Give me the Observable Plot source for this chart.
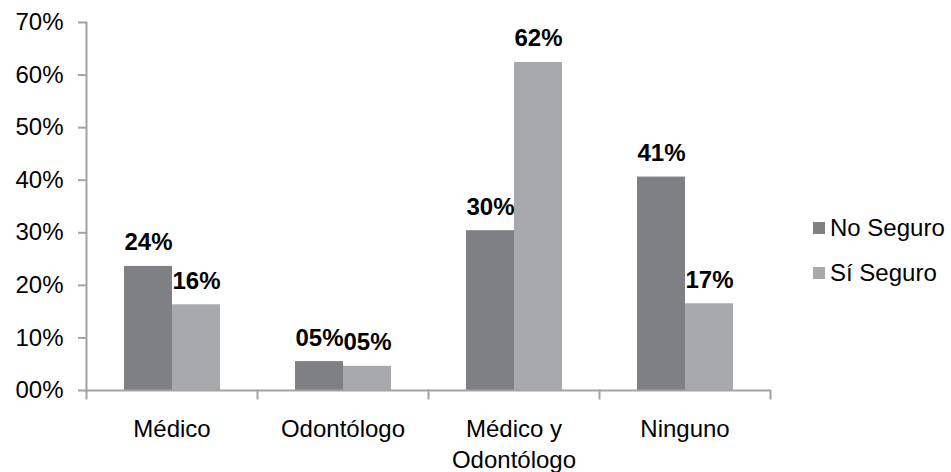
<!DOCTYPE html>
<html>
<head>
<meta charset="utf-8">
<script src="https://cdn.jsdelivr.net/npm/d3@7"></script>
<script src="https://cdn.jsdelivr.net/npm/@observablehq/plot@0.6"></script>
<style>
  body { margin: 0; background: #fff; }
  #wrap { position: relative; width: 951px; height: 472px; font-family: "Liberation Sans", Arial, sans-serif; }
  #legend { position: absolute; left: 813px; top: 205px; font-size: 24px; color: #000; }
  .item { display: flex; align-items: center; height: 45px; }
  .sw { width: 12px; height: 12px; margin-right: 5px; }
</style>
</head>
<body>
<div id="wrap"></div>
<script>
const categories = ["Médico", "Odontólogo", "Médico y\nOdontólogo", "Ninguno"];
const series = ["No Seguro", "Sí Seguro"];
const noSeguro = [23.6, 5.5, 30.4, 40.6];
const siSeguro = [16.3, 4.6, 62.4, 16.5];
const labelsNo = ["24%", "05%", "30%", "41%"];
const labelsSi = ["16%", "05%", "62%", "17%"];
const yTicks = [0, 10, 20, 30, 40, 50, 60, 70];
const colors = ["#7f8084", "#a8a9ac"];
const axisGray = "#a3a3a3";

const rows = [];
categories.forEach((c, i) => {
  rows.push({category: c, series: series[0], value: noSeguro[i], label: labelsNo[i]});
  rows.push({category: c, series: series[1], value: siSeguro[i], label: labelsSi[i]});
});

const chart = Plot.plot({
  width: 951,
  height: 472,
  marginLeft: 85,
  marginRight: 180,
  marginTop: 22,
  marginBottom: 82,
  style: {fontFamily: "'Liberation Sans', Arial, sans-serif", fontSize: "24px", color: "#000", background: "#fff"},
  fx: {domain: categories, padding: 0, label: null},
  x: {domain: series, paddingInner: 0, paddingOuter: 0.75, axis: null},
  y: {domain: [0, 70], label: null},
  color: {domain: series, range: colors},
  marks: [
    Plot.barY(rows, {fx: "category", x: "series", y: "value", fill: "series"}),
    Plot.ruleY([0], {stroke: axisGray, strokeWidth: 2}),
    Plot.frame({anchor: "left", stroke: axisGray, strokeWidth: 2, insetTop: 368, insetBottom: -8}),
    Plot.frame({anchor: "right", facetAnchor: "right", stroke: axisGray, strokeWidth: 2, insetTop: 368, insetBottom: -8}),
    Plot.frame({anchor: "left", facetAnchor: "left", stroke: axisGray, strokeWidth: 2}),
    Plot.axisY({ticks: yTicks, tickSize: 8, tickPadding: 15, stroke: axisGray, strokeWidth: 2, label: null,
      tickFormat: d => String(d).padStart(2, "0") + "%", fontSize: 24, fill: "#000"}),
    Plot.axisFx({anchor: "bottom", tickSize: 0, tickPadding: 24, label: null, fontSize: 24, lineHeight: 1.3, fill: "#000"}),
    Plot.text(rows, {fx: "category", x: "series", y: "value", text: "label", lineAnchor: "bottom", dy: -16,
      fontWeight: "bold", fontSize: 24, fill: "#000"})
  ]
});

const wrap = document.getElementById("wrap");
wrap.appendChild(chart);
const legend = document.createElement("div");
legend.id = "legend";
series.forEach((s, i) => {
  const item = document.createElement("div");
  item.className = "item";
  const sw = document.createElement("span");
  sw.className = "sw";
  sw.style.background = chart.scale("color").apply(s);
  const t = document.createElement("span");
  t.textContent = s;
  item.appendChild(sw);
  item.appendChild(t);
  legend.appendChild(item);
});
wrap.appendChild(legend);
</script>
</body>
</html>
